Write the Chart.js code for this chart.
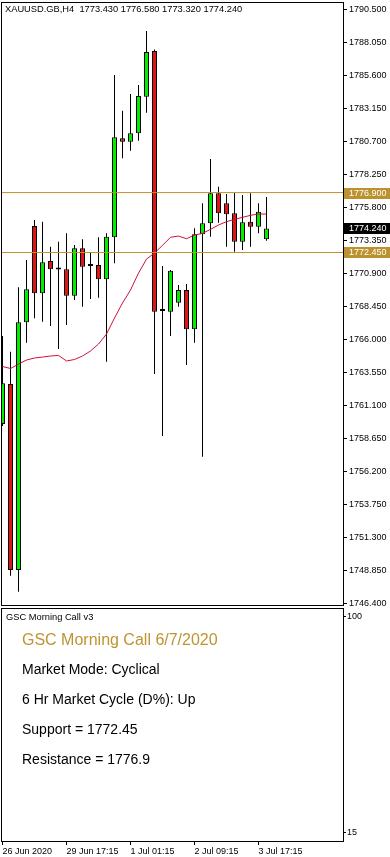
<!DOCTYPE html>
<html><head><meta charset="utf-8">
<script src="https://cdn.jsdelivr.net/npm/chart.js@4.4.1/dist/chart.umd.min.js"></script>
<style>
html,body{margin:0;padding:0;background:#fff;width:390px;height:857px;overflow:hidden;font-family:"Liberation Sans",Arial,sans-serif;}
canvas{position:absolute;left:0;}
#main{top:0;}
#sub{top:606px;}
.t{position:absolute;white-space:nowrap;color:#000;line-height:1;font-family:"Liberation Sans",Arial,sans-serif;}
</style></head><body>
<canvas id="main" width="390" height="612"></canvas>
<canvas id="sub" width="390" height="251"></canvas>
<div class="t" id="hdr" style="left:5px;top:5.3px;font-size:9.3px;"></div>
<div class="t" id="ind" style="left:6px;top:612.5px;font-size:9.3px;"></div>
<div class="t" id="l0" style="left:22px;top:631.5px;font-size:16px;color:#BE9430;"></div>
<div class="t" id="l1" style="left:22px;top:662px;font-size:14px;"></div>
<div class="t" id="l2" style="left:22px;top:691.6px;font-size:14px;"></div>
<div class="t" id="l3" style="left:22px;top:721.5px;font-size:14px;"></div>
<div class="t" id="l4" style="left:22px;top:751.5px;font-size:14px;"></div>
<script>
// ---------- data ----------
const symbol = 'XAUUSD.GB,H4';
const barIndex = [0,1,2,3,4,5,6,7,8,9,10,11,12,13,14,15,16,17,18,19,20,21,22,23,24,25,26,27,28,29,30,31,32,33];
const openP  = [1759.70,1762.68,1748.86,1767.26,1774.42,1769.42,1771.82,1771.22,1771.20,1769.24,1772.76,1771.45,1771.52,1770.46,1773.58,1780.93,1780.68,1781.30,1784.02,1787.42,1768.14,1768.05,1768.72,1769.66,1766.74,1773.80,1774.62,1776.85,1776.10,1775.36,1773.25,1774.74,1774.36,1773.43];
const highP  = [1766.24,1765.08,1769.86,1771.89,1774.86,1774.74,1772.88,1773.25,1773.87,1773.00,1773.43,1772.43,1773.58,1773.87,1785.63,1782.98,1784.22,1784.89,1788.90,1787.54,1771.44,1771.15,1770.03,1770.11,1774.25,1776.10,1779.39,1777.34,1776.79,1776.89,1776.72,1776.85,1776.10,1776.58];
const lowP   = [1759.56,1748.44,1747.25,1765.75,1767.56,1767.31,1766.99,1765.28,1767.06,1768.92,1768.42,1768.99,1769.09,1764.33,1771.65,1779.45,1780.01,1780.75,1782.83,1763.42,1758.82,1766.24,1768.42,1764.09,1765.75,1757.28,1773.62,1774.66,1772.88,1772.51,1772.63,1772.88,1773.87,1773.32];
const closeP = [1762.73,1748.86,1767.26,1769.71,1769.42,1771.72,1771.20,1771.18,1769.24,1772.76,1771.39,1771.50,1770.46,1773.62,1781.01,1780.68,1781.30,1784.07,1787.34,1768.05,1768.10,1771.10,1769.66,1766.74,1773.80,1774.62,1776.85,1775.36,1775.29,1773.25,1774.69,1774.36,1775.48,1774.24];
const maLine = [1763.98,1763.83,1764.16,1764.46,1764.61,1764.68,1764.76,1764.80,1764.39,1764.50,1764.76,1765.13,1765.65,1766.39,1767.58,1768.70,1769.66,1770.92,1771.96,1772.41,1772.98,1773.58,1773.67,1773.47,1773.75,1773.87,1774.17,1774.49,1774.74,1774.91,1775.06,1775.21,1775.31,1775.31];
const support = 1772.45;
const resistance = 1776.9;
const priceTicks = [1746.4,1748.85,1751.3,1753.75,1756.2,1758.65,1761.1,1763.55,1766.0,1768.45,1770.9,1773.35,1775.8,1778.25,1780.7,1783.15,1785.6,1788.05,1790.5];
const xTickIndex = [0,8,16,24,32];
const xTickLabels = ['26 Jun 2020','29 Jun 17:15','1 Jul 01:15','2 Jul 09:15','3 Jul 17:15'];
const indicatorTicks = [15,100];
const indicatorName = 'GSC Morning Call v3';
const panelTitle = 'GSC Morning Call 6/7/2020';
const marketMode = 'Cyclical';
const marketCycle = 'Up';

// ---------- view settings ----------
const X_MIN = -0.1875, X_MAX = 42.5625;
const Y_MIN = 1746.26, Y_MAX = 1791.06;
const IND_MIN = 11.85, IND_MAX = 103.54;
const GREEN = '#00EE00', RED = '#E01414', GOLD = '#BC922E', MA_COLOR = '#D0103A';
const FONT = '"Liberation Sans", Arial, sans-serif';
Chart.defaults.font.family = FONT;

const last = barIndex.length - 1;
document.getElementById('hdr').textContent = symbol + '\u00a0\u00a0' + [openP[last], highP[last], lowP[last], closeP[last]].map(v => v.toFixed(3)).join(' ');
document.getElementById('ind').textContent = indicatorName;
document.getElementById('l0').textContent = panelTitle;
document.getElementById('l1').textContent = 'Market Mode: ' + marketMode;
document.getElementById('l2').textContent = '6 Hr Market Cycle (D%): ' + marketCycle;
document.getElementById('l3').textContent = 'Support = ' + support;
document.getElementById('l4').textContent = 'Resistance = ' + resistance;

const noPad = s => { s.paddingTop = 0; s.paddingBottom = 0; s.paddingLeft = 0; s.paddingRight = 0; };

const framePlugin = {
  id: 'frame',
  afterDraw(chart) {
    const a = chart.chartArea, ctx = chart.ctx;
    ctx.save();
    ctx.strokeStyle = '#000'; ctx.lineWidth = 1;
    ctx.strokeRect(a.left + 0.5, a.top + 0.5, a.right - a.left, a.bottom - a.top);
    ctx.restore();
  }
};

const priceTags = [
  {v: resistance, bg: GOLD},
  {v: closeP[last], bg: '#000'},
  {v: support, bg: GOLD}
];
const tagPlugin = {
  id: 'tags',
  afterDraw(chart) {
    const y = chart.scales.y, a = chart.chartArea, ctx = chart.ctx;
    ctx.save();
    ctx.font = '9px ' + FONT;
    ctx.textBaseline = 'middle';
    for (const t of priceTags) {
      const py = Math.round(y.getPixelForValue(t.v));
      ctx.fillStyle = t.bg;
      ctx.fillRect(a.right + 1, py - 5, 46, 11);
      ctx.fillStyle = '#fff';
      ctx.fillText(t.v.toFixed(3), a.right + 6, py + 0.5);
    }
    ctx.restore();
  }
};

const bodies = barIndex.map(i => ({x: i, y: [openP[i], closeP[i]]}));
const wicks = barIndex.map(i => ({x: i, y: [lowP[i], highP[i]]}));
const bodyColors = barIndex.map(i => closeP[i] >= openP[i] ? GREEN : RED);

new Chart(document.getElementById('main'), {
  type: 'bar',
  data: { datasets: [
    {type: 'line', data: [{x: X_MIN, y: resistance}, {x: X_MAX, y: resistance}], borderColor: GOLD, borderWidth: 1, pointRadius: 0},
    {type: 'line', data: [{x: X_MIN, y: support}, {x: X_MAX, y: support}], borderColor: GOLD, borderWidth: 1, pointRadius: 0},
    {type: 'line', data: barIndex.map(i => ({x: i, y: maLine[i]})), borderColor: MA_COLOR, borderWidth: 1, pointRadius: 0, tension: 0},
    {type: 'bar', data: bodies, backgroundColor: bodyColors, borderColor: '#000', borderWidth: 1, borderSkipped: false, barThickness: 5, grouped: false, minBarLength: 2, inflateAmount: 0},
    {type: 'bar', data: wicks, backgroundColor: '#000', borderWidth: 0, barThickness: 1, grouped: false, inflateAmount: 0}
  ]},
  options: {
    responsive: false, animation: false, devicePixelRatio: 1,
    layout: {padding: {left: 1, top: 2, right: 0, bottom: 7}},
    plugins: {legend: {display: false}, tooltip: {enabled: false}},
    scales: {
      x: {type: 'linear', min: X_MIN, max: X_MAX, offset: false, display: false},
      y: {
        position: 'right', min: Y_MIN, max: Y_MAX,
        afterFit: s => { s.width = 47; noPad(s); },
        afterBuildTicks: s => { s.ticks = priceTicks.map(v => ({value: v})); },
        ticks: {autoSkip: false, padding: 2, color: '#000', font: {size: 9}, callback: v => Number(v).toFixed(3)},
        grid: {drawOnChartArea: false, drawTicks: true, tickLength: 4, color: '#000'},
        border: {display: false}
      }
    }
  },
  plugins: [framePlugin, tagPlugin]
});

new Chart(document.getElementById('sub'), {
  type: 'line',
  data: {datasets: []},
  options: {
    responsive: false, animation: false, devicePixelRatio: 1,
    layout: {padding: {left: 1, top: 2, right: 0, bottom: 0}},
    plugins: {legend: {display: false}, tooltip: {enabled: false}},
    scales: {
      x: {
        type: 'linear', min: X_MIN, max: X_MAX, offset: false,
        afterFit: s => { s.height = 16; noPad(s); },
        afterBuildTicks: s => { s.ticks = xTickIndex.map(v => ({value: v})); },
        ticks: {autoSkip: false, maxRotation: 0, minRotation: 0, align: 'start', padding: 1, color: '#000', font: {size: 9},
          callback: v => xTickLabels[xTickIndex.indexOf(Number(v))]},
        grid: {drawOnChartArea: false, tickLength: 4, color: '#000'},
        border: {display: false}
      },
      y: {
        position: 'right', min: IND_MIN, max: IND_MAX,
        afterFit: s => { s.width = 47; noPad(s); },
        afterBuildTicks: s => { s.ticks = indicatorTicks.map(v => ({value: v})); },
        ticks: {autoSkip: false, padding: 1, color: '#000', font: {size: 9}, callback: v => String(v)},
        grid: {drawOnChartArea: false, tickLength: 3, color: '#000'},
        border: {display: false}
      }
    }
  },
  plugins: [framePlugin]
});
</script>
</body></html>
